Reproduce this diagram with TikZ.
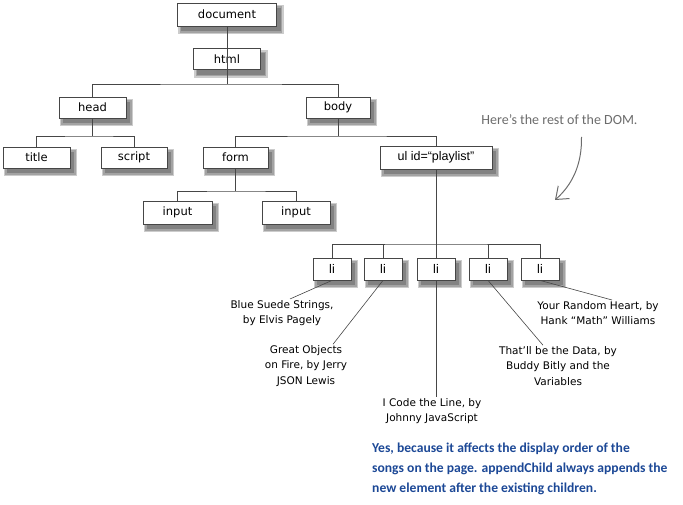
\documentclass[tikz,border=0pt]{standalone}
\usepackage{fontspec}
\setmainfont{DejaVu Sans}
\newfontfamily\arialfont{Liberation Sans}
\newfontfamily\handfont{Carlito}
\usepackage{tikz}
\usetikzlibrary{arrows.meta,backgrounds}
\definecolor{answerblue}{RGB}{28,72,150}
\definecolor{edgegray}{RGB}{70,70,70}

\begin{document}
\begin{tikzpicture}[
  x=1pt,y=-1pt,
  tag/.style={draw=edgegray,line width=0.8pt,fill=white,minimum height=21pt,inner sep=0pt,font=\fontsize{11.5}{13}\selectfont},
  item/.style={tag,font=\arialfont\fontsize{12.5}{14}\selectfont},
  shade/.style={fill=black,opacity=0.2},
  branch/.style={draw=edgegray,line width=0.8pt},
  song/.style={align=center,inner sep=1pt,font=\fontsize{10.5}{15.5}\selectfont},
  remark/.style={font=\handfont\fontsize{14}{16}\selectfont,text=gray!85!black},
  answer/.style={anchor=north west,align=left,inner sep=0pt,font=\handfont\bfseries\fontsize{13.6}{20}\selectfont,text=answerblue}
]
\useasboundingbox (0,0) rectangle (683,505);
% element boxes
\node[tag,minimum width=99pt,minimum height=23pt] (doc) at (227,14.5) {document};
\node[tag,minimum width=67pt] (html) at (227,59) {html};
\node[tag,minimum width=67pt] (head) at (92.5,107.5) {head};
\node[tag,minimum width=64pt] (body) at (338,107.5) {body};
\node[tag,minimum width=67pt] (title) at (36.5,157.5) {title};
\node[tag,minimum width=66pt] (script) at (134,157.5) {script};
\node[tag,minimum width=65pt] (form) at (235.5,157.5) {form};
\node[item,minimum width=112pt,minimum height=23pt] (ul) at (436,157.5) {ul id=“playlist”};
\node[tag,minimum width=69pt,minimum height=23pt] (input1) at (177.5,212.5) {input};
\node[tag,minimum width=68pt,minimum height=23pt] (input2) at (296,212.5) {input};
\foreach \i/\x in {1/332,2/383,3/436,4/488,5/540}
  \node[item,minimum width=38pt,minimum height=22pt] (li\i) at (\x,269) {li};
% soft shadows behind the boxes
\begin{scope}[on background layer]
  \foreach \n in {doc,html,head,body,title,script,form,ul,input1,input2,li1,li2,li3,li4,li5}
    \foreach \r in {0,1.5,3}
      \fill[shade] ([xshift=4pt-\r pt,yshift=-5pt-\r pt]\n.south west) rectangle ([xshift=4pt+\r pt,yshift=-5pt+\r pt]\n.north east);
\end{scope}
% fork points
\coordinate (htmlfork) at (227,84);
\coordinate (headfork) at (92.5,136);
\coordinate (bodyfork) at (338,136);
\coordinate (formfork) at (235.5,191);
\coordinate (ulfork) at (436,244);
% tree lines
\draw[branch] (doc.south) -- (htmlfork);
\draw[branch] (head.north) |- (htmlfork) -| (body.north);
\draw[branch] (head.south) -- (headfork);
\draw[branch] (title.north) |- (headfork) -| (script.north);
\draw[branch] (body.south) -- (bodyfork);
\draw[branch] (form.north) |- (bodyfork) -| (ul.north);
\draw[branch] (form.south) -- (formfork);
\draw[branch] (input1.north) |- (formfork) -| (input2.north);
\draw[branch] (ul.south) -- (li3.north);
\draw[branch] (li1.north) |- (ulfork) -| (li5.north);
\draw[branch] (li2.north) -- (li2.north |- ulfork);
\draw[branch] (li4.north) -- (li4.north |- ulfork);
% songs
\node[song] (song1) at (282,313) {Blue Suede Strings,\\by Elvis Pagely};
\node[song] (song2) at (306,366) {Great Objects\\on Fire, by Jerry\\JSON Lewis};
\node[song] (song3) at (432,411) {I Code the Line, by\\Johnny JavaScript};
\node[song] (song4) at (558,366) {That’ll be the Data, by\\Buddy Bitly and the\\Variables};
\node[song] (song5) at (598,313) {Your Random Heart, by\\Hank “Math” Williams};
\draw[branch,line width=0.6pt] (li1.south) -- ([xshift=8pt]song1.north);
\draw[branch,line width=0.6pt] (li2.south) -- ([xshift=27pt]song2.north);
\draw[branch,line width=0.6pt] (li3.south) -- (li3.south |- song3.north);
\draw[branch,line width=0.6pt] (li4.south) -- ([xshift=-15pt]song4.north);
\draw[branch,line width=0.6pt] (li5.south) -- ([xshift=14pt]song5.north);
% handwritten notes
\node[remark] (note) at (559.5,120) {Here’s the rest of the DOM.};
\coordinate (notetip) at (555,200);
\draw[draw=gray!85!black,line width=1pt,-{Straight Barb[length=11pt,width=17pt]}]
  ([xshift=22pt,yshift=-17pt]note.center) .. controls (582,165) and (572,185) .. (notetip);
\node[answer] (answer) at (372,443) {Yes, because it affects the display order of the\\songs on the page. appendChild always appends the\\new element after the existing children.};
\end{tikzpicture}
\end{document}
